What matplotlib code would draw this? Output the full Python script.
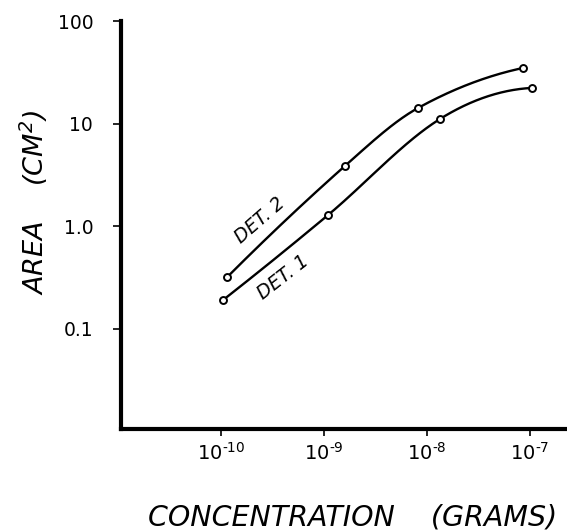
import numpy as np
import matplotlib
matplotlib.use("Agg")
import matplotlib.pyplot as plt
from matplotlib.ticker import FixedLocator, FixedFormatter, NullLocator

# Detector response: peak area (cm^2) against injected amount (grams)
det1_grams = [1.04e-10, 1.1e-9, 1.34e-8, 1.05e-7]
det1_area = [0.19, 1.29, 11.1, 22.3]
det2_grams = [1.15e-10, 1.6e-9, 8.2e-9, 8.5e-8]
det2_area = [0.32, 3.87, 14.2, 34.8]

x_ticks = [1e-10, 1e-9, 1e-8, 1e-7]
x_tick_labels = [r"$\mathregular{10^{\text{-}10}}$", r"$\mathregular{10^{\text{-}9}}$",
                 r"$\mathregular{10^{\text{-}8}}$", r"$\mathregular{10^{\text{-}7}}$"]
y_ticks = [0.1, 1.0, 10, 100]
y_tick_labels = ["0.1", "1.0", "10", "100"]


def smooth_loglog(xs, ys, n=200):
    """Cubic Hermite (Catmull-Rom style) curve through the points in log-log space."""
    lx = np.log10(xs)
    ly = np.log10(ys)
    h = np.diff(lx)
    delta = np.diff(ly) / h
    k = len(lx)
    d = np.zeros(k)
    for i in range(1, k - 1):
        d[i] = (ly[i + 1] - ly[i - 1]) / (lx[i + 1] - lx[i - 1])
    d[0] = 2 * delta[0] - d[1]
    d[-1] = max(2 * delta[-1] - d[-2], 0.0)
    t = np.linspace(lx[0], lx[-1], n)
    out = np.empty_like(t)
    for j, tv in enumerate(t):
        i = min(np.searchsorted(lx, tv, side="right") - 1, k - 2)
        s = (tv - lx[i]) / h[i]
        h00 = 2 * s**3 - 3 * s**2 + 1
        h10 = s**3 - 2 * s**2 + s
        h01 = -2 * s**3 + 3 * s**2
        h11 = s**3 - s**2
        out[j] = h00 * ly[i] + h10 * h[i] * d[i] + h01 * ly[i + 1] + h11 * h[i] * d[i + 1]
    return 10 ** t, 10 ** out


fig = plt.figure(figsize=(5.67, 5.32), dpi=100)
ax = fig.add_axes([0.2134, 0.1936, 0.786, 0.7669])
ax.set_xscale("log")
ax.set_yscale("log")
ax.set_xlim(1.07e-11, 2.28e-7)
ax.set_ylim(0.0106, 100)

for xs, ys in [(det1_grams, det1_area), (det2_grams, det2_area)]:
    sx, sy = smooth_loglog(xs, ys)
    ax.plot(sx, sy, color="black", lw=1.7, solid_capstyle="round")
    ax.plot(xs, ys, "o", ms=5, mfc="white", mec="black", mew=1.4)

ax.text(2.39e-10, 1.15, "DET. 2", rotation=41, ha="center", va="center",
        fontsize=13.5, style="italic", family="DejaVu Sans")
ax.text(4.0e-10, 0.32, "DET. 1", rotation=38, ha="center", va="center",
        fontsize=13.5, style="italic", family="DejaVu Sans")

for side in ("top", "right"):
    ax.spines[side].set_visible(False)
for side in ("left", "bottom"):
    ax.spines[side].set_linewidth(3.0)

ax.xaxis.set_major_locator(FixedLocator(x_ticks))
ax.xaxis.set_major_formatter(FixedFormatter(x_tick_labels))
ax.xaxis.set_minor_locator(NullLocator())
ax.yaxis.set_major_locator(FixedLocator(y_ticks))
ax.yaxis.set_major_formatter(FixedFormatter(y_tick_labels))
ax.yaxis.set_minor_locator(NullLocator())
ax.tick_params(axis="y", direction="out", width=1.2, length=6, labelsize=13.5, pad=14)
ax.tick_params(axis="x", direction="out", width=1.2, length=5, labelsize=14, pad=4)

ax.set_xlabel("CONCENTRATION    (GRAMS)", fontsize=20.5, style="italic")
ax.xaxis.set_label_coords(0.52, -0.183)
ax.set_ylabel("AREA    (CM$^{\\mathregular{2}}$)", fontsize=19.5, style="italic")
ax.yaxis.set_label_coords(-0.16, 0.555)

fig.savefig("out.png", dpi=100, facecolor="white")
